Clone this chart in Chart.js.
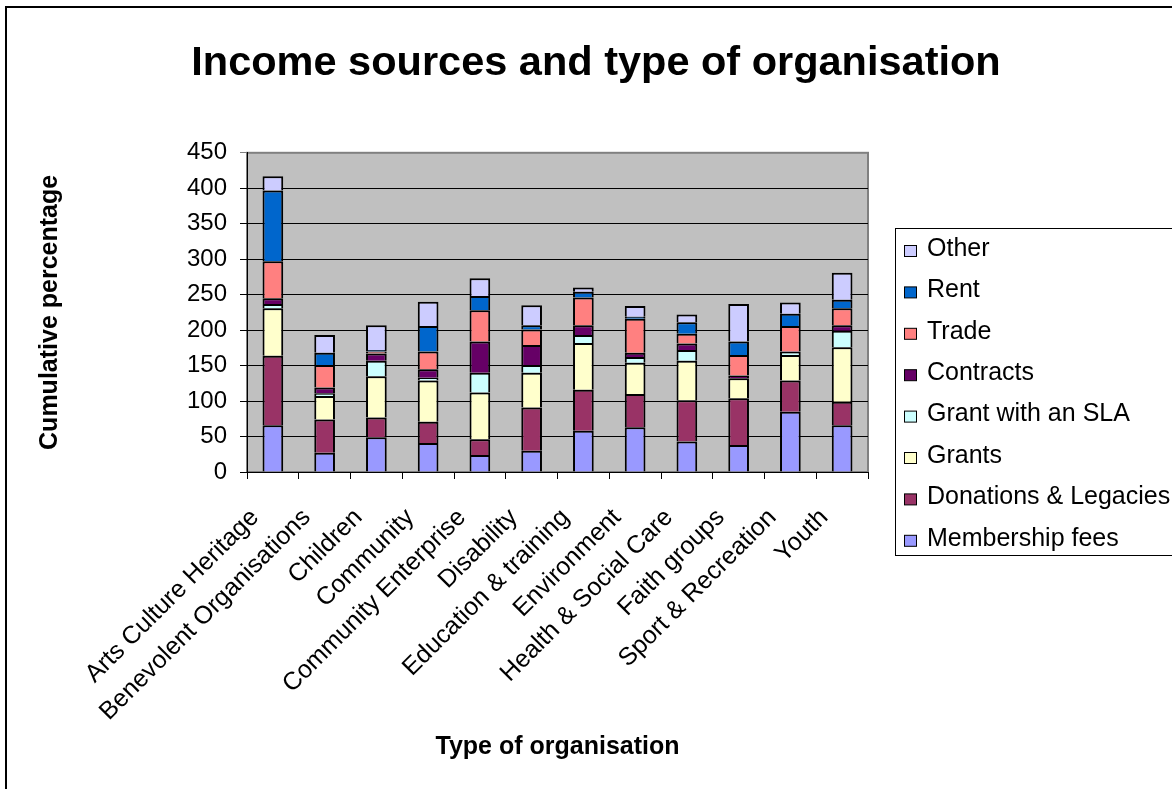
<!DOCTYPE html>
<html>
<head>
<meta charset="utf-8">
<title>Income sources and type of organisation</title>
<script src="https://cdn.jsdelivr.net/npm/chart.js@4.4.0/dist/chart.umd.min.js"></script>
<style>
body { margin: 0; background: #fff; }
#wrap { width: 1172px; height: 789px; }
</style>
</head>
<body>
<div id="wrap"><canvas id="myChart" width="1172" height="789"></canvas></div>
<script>
// categories along the x axis
var categories = ['Arts Culture Heritage', 'Benevolent Organisations', 'Children', 'Community',
	'Community Enterprise', 'Disability', 'Education & training', 'Environment',
	'Health & Social Care', 'Faith groups', 'Sport & Recreation', 'Youth'];

// percentages per income source, stacked bottom to top
var membershipFees = [66, 27, 49, 41, 24, 30, 58, 63, 43, 38, 85, 66];
var donations      = [98, 47, 28, 30, 22, 61, 58, 47, 58, 66, 44, 33];
var grants         = [67, 33, 58, 58, 66, 49, 66, 44, 56, 28, 36, 77];
var grantSla       = [6, 4, 22, 4, 28, 11, 11, 8, 15, 0, 4, 23];
var contracts      = [8, 8, 10, 12, 44, 28, 14, 6, 9, 4, 1, 8];
var trade          = [52, 32, 3, 25, 44, 22, 39, 48, 14, 29, 36, 24];
var rent           = [100, 17, 2, 36, 20, 6, 8, 3, 16, 19, 17, 12];
var other          = [20, 25, 35, 34, 25, 28, 6, 15, 11, 53, 16, 38];

var fontFamily = "'Liberation Sans', Arial, Helvetica, sans-serif";
Chart.defaults.font.family = fontFamily;
Chart.defaults.color = '#000';

// grey plot area and the outer frame
var plotBackground = {
	id: 'plotBackground',
	beforeDraw: function(chart){
		var c = chart.ctx;
		var a = chart.chartArea;
		c.save();
		c.fillStyle = '#fff';
		c.fillRect(0, 0, chart.width, chart.height);
		c.strokeStyle = '#000';
		c.lineWidth = 2;
		c.strokeRect(6, 7, chart.width + 20, chart.height + 20);
		c.fillStyle = '#c0c0c0';
		c.fillRect(a.left, a.top, a.right - a.left, a.bottom - a.top);
		c.strokeStyle = '#808080';
		c.lineWidth = 2;
		c.strokeRect(a.left, a.top, a.right - a.left, a.bottom - a.top);
		c.restore();
	}
};

// legend in a framed box, top item is the top of the stack
var boxLegend = {
	id: 'boxLegend',
	afterDraw: function(chart){
		var c = chart.ctx;
		var sets = chart.data.datasets.slice().reverse();
		c.save();
		c.strokeStyle = '#000';
		c.lineWidth = 1;
		c.strokeRect(895.5, 228.5, 320, 327);
		c.font = '25px ' + fontFamily;
		c.textBaseline = 'middle';
		c.textAlign = 'left';
		sets.forEach(function(ds, i){
			var y = 249 + i * 41.4;
			c.fillStyle = ds.backgroundColor;
			c.fillRect(904.5, y - 3.5, 12, 11);
			c.strokeStyle = '#000';
			c.strokeRect(904.5, y - 3.5, 12, 11);
			c.fillStyle = '#000';
			c.fillText(ds.label, 927, y);
		});
		c.restore();
	}
};

var makeSet = function(label, data, colour){
	return {
		label: label,
		data: data,
		backgroundColor: colour,
		borderColor: '#000',
		borderWidth: 2,
		barPercentage: 0.4,
		categoryPercentage: 1
	};
};

var ctx = document.getElementById('myChart').getContext('2d');
var chart = new Chart(ctx, {
	type: 'bar',
	data: {
		labels: categories,
		datasets: [
			makeSet('Membership fees', membershipFees, '#9999ff'),
			makeSet('Donations & Legacies', donations, '#993366'),
			makeSet('Grants', grants, '#ffffcc'),
			makeSet('Grant with an SLA', grantSla, '#ccffff'),
			makeSet('Contracts', contracts, '#660066'),
			makeSet('Trade', trade, '#ff8080'),
			makeSet('Rent', rent, '#0066cc'),
			makeSet('Other', other, '#ccccff')
		]
	},
	options: {
		responsive: false,
		animation: false,
		layout: {
			padding: { left: 20, right: 0, top: 0, bottom: 20 }
		},
		plugins: {
			legend: { display: false },
			tooltip: { enabled: false },
			title: {
				display: true,
				text: 'Income sources and type of organisation',
				font: { size: 41.5, weight: 'bold' },
				color: '#000',
				padding: { top: 39, bottom: 64 }
			}
		},
		scales: {
			x: {
				stacked: true,
				afterFit: function(scale){ scale.height = 297; },
				grid: {
					display: true,
					drawOnChartArea: false,
					drawTicks: true,
					tickLength: 7,
					color: '#000',
					offset: true
				},
				border: { color: '#000', width: 1 },
				ticks: {
					autoSkip: false,
					minRotation: 45,
					maxRotation: 45,
					padding: 24,
					labelOffset: -18,
					font: { size: 25 },
					color: '#000'
				},
				title: {
					display: true,
					text: 'Type of organisation',
					font: { size: 25, weight: 'bold' },
					color: '#000',
					padding: { top: 0, bottom: 7 }
				}
			},
			y: {
				stacked: true,
				min: 0,
				max: 450,
				afterFit: function(scale){ scale.width = 227; },
				grid: {
					color: function(c){ return c.tick && c.tick.value === 450 ? '#808080' : '#000'; },
					lineWidth: 1,
					tickLength: 7,
					drawTicks: true
				},
				border: { color: '#000', width: 1 },
				ticks: {
					stepSize: 50,
					padding: 13,
					font: { size: 24 },
					color: '#000'
				},
				title: {
					display: true,
					text: 'Cumulative percentage',
					font: { size: 25, weight: 'bold' },
					color: '#000',
					padding: { top: 15, bottom: 0 }
				}
			},
			// empty right-hand strip that holds the legend box
			legendSpace: {
				type: 'linear',
				position: 'right',
				display: true,
				afterFit: function(scale){ scale.width = 304; },
				grid: { display: false },
				border: { display: false },
				ticks: { display: false }
			}
		}
	},
	plugins: [plotBackground, boxLegend]
});
</script>
</body>
</html>
